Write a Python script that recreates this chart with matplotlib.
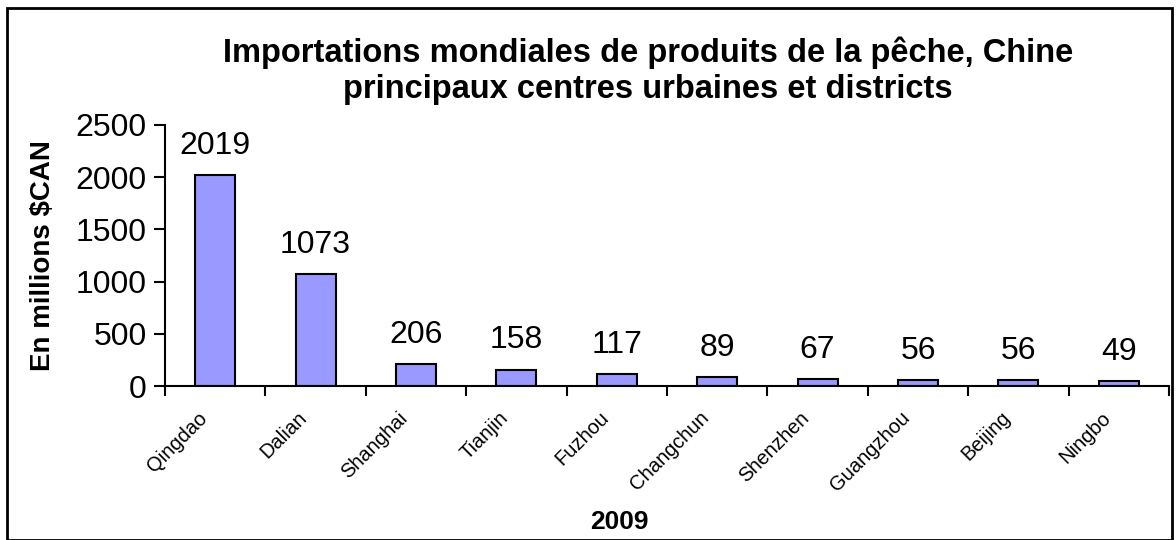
import matplotlib
matplotlib.use("Agg")
import matplotlib.pyplot as plt
import matplotlib.transforms as mtransforms
import numpy as np
from matplotlib.patches import Rectangle

plt.rcParams["font.family"] = ["Liberation Sans", "DejaVu Sans"]

CITIES = ["Qingdao", "Dalian", "Shanghai", "Tianjin", "Fuzhou", "Changchun",
          "Shenzhen", "Guangzhou", "Beijing", "Ningbo"]
VALUES = [2019, 1073, 206, 158, 117, 89, 67, 56, 56, 49]
TITLE = "Importations mondiales de produits de la pêche, Chine\nprincipaux centres urbaines et districts"
YLABEL = "En millions $CAN"
XLABEL = "2009"

fig = plt.figure(figsize=(11.76, 5.4), dpi=100)
ax = fig.add_axes([165 / 1176, 1 - 386 / 540, (1169 - 165) / 1176, (386 - 125) / 540])

x = np.arange(len(CITIES))
ax.bar(x, VALUES, width=0.4, color="#9999FF", edgecolor="black", linewidth=1.5)

for xi, v in zip(x, VALUES):
    ax.text(xi, v + 135, str(v), ha="center", va="bottom", fontsize=23)

ax.set_xlim(-0.5, len(CITIES) - 0.5)
ax.set_ylim(0, 2500)
ax.set_yticks(np.arange(0, 2501, 500))
ax.tick_params(axis="y", labelsize=23, length=8, width=1.5, direction="out", pad=5)

# ticks between categories, labels at centres
ax.set_xticks(np.arange(-0.5, len(CITIES), 1.0))
ax.set_xticklabels([])
ax.set_xticks(x, minor=True)
ax.set_xticklabels(CITIES, minor=True, rotation=45, ha="right", rotation_mode="anchor", fontsize=14.5)
ax.tick_params(axis="x", which="major", length=7, width=1.5, direction="out")
ax.tick_params(axis="x", which="minor", length=0, pad=16)
shift = mtransforms.ScaledTranslation(-18 / 100, 0, fig.dpi_scale_trans)
for lbl in ax.get_xticklabels(minor=True):
    lbl.set_transform(lbl.get_transform() + shift)

for side in ["top", "right"]:
    ax.spines[side].set_visible(False)
for side in ["left", "bottom"]:
    ax.spines[side].set_linewidth(1.5)

ax.set_ylabel(YLABEL, fontsize=20, fontweight="bold", labelpad=14)
fig.text(619 / 1176, 1 - 522 / 540, XLABEL, ha="center", va="center",
         fontsize=19, fontweight="bold")
fig.text(648 / 1176, 1 - 71 / 540, TITLE, ha="center", va="center",
         fontsize=23.5, fontweight="bold", linespacing=1.2)

fig.patches.append(Rectangle((7 / 1176, 0), (1172 - 7) / 1176, 1 - 8 / 540,
                             transform=fig.transFigure, fill=False,
                             edgecolor="black", linewidth=2))

fig.savefig("out.png", dpi=100)
